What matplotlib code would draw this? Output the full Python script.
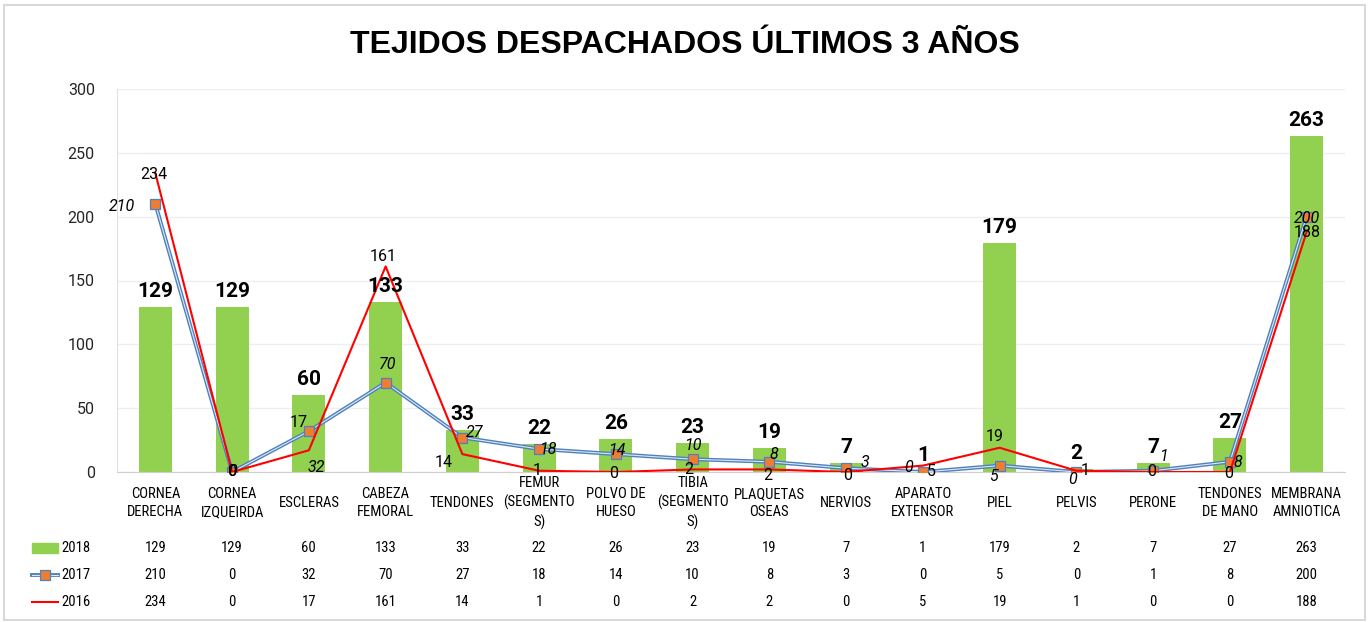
import matplotlib
matplotlib.use("Agg")
import matplotlib.pyplot as plt
from matplotlib import font_manager
from matplotlib.patches import Rectangle
from matplotlib.lines import Line2D

# Data
categories = ["CORNEA\nDERECHA", "CORNEA\nIZQUEIRDA", "ESCLERAS", "CABEZA\nFEMORAL",
              "TENDONES", "FEMUR\n(SEGMENTO\nS)", "POLVO DE\nHUESO", "TIBIA\n(SEGMENTO\nS)",
              "PLAQUETAS\nOSEAS", "NERVIOS", "APARATO\nEXTENSOR", "PIEL", "PELVIS",
              "PERONE", "TENDONES\nDE MANO", "MEMBRANA\nAMNIOTICA"]
years = ["2018", "2017", "2016"]
v2018 = [129, 129, 60, 133, 33, 22, 26, 23, 19, 7, 1, 179, 2, 7, 27, 263]
v2017 = [210, 0, 32, 70, 27, 18, 14, 10, 8, 3, 0, 5, 0, 1, 8, 200]
v2016 = [234, 0, 17, 161, 14, 1, 0, 2, 2, 0, 5, 19, 1, 0, 0, 188]
yticks = [0, 50, 100, 150, 200, 250, 300]

# label offsets in pixels (dx, dy) for the line series labels
off2017 = [(-33, -3), (0, 0), (7, -36), (2, 18), (12, 5), (9, 0), (1, 4), (0, 14),
           (5, 7), (19, 6), (-14, 4), (-6, -11), (-4, -8), (10, 14), (8, -1), (0, -2)]
off2016 = [(-2, -1), (0, 0), (-10, 28), (-2, 10), (-19, -8), (-2, 0), (-2, -1), (-4, 0),
           (-2, -6), (1, -3), (8, -6), (-5, 11), (9, 0), (-2, 0), (-1, -1), (1, -1)]

W, H = 1370, 622
GREEN = "#92d050"
BLUE = "#4f81bd"
BLUE_IN = "#dce8f6"
ORANGE = "#ed7d31"
RED = "#ff0000"

# narrow sans for the category texts / table, if one is installed
_names = {f.name for f in font_manager.fontManager.ttflist}
REG = {"family": ["Roboto", "DejaVu Sans"]}
COND = REG
for cand in ["Roboto Condensed", "Liberation Sans Narrow", "Open Sans Condensed"]:
    if cand in _names:
        COND = {"family": [cand, "DejaVu Sans"]}
        break


def fx(px):
    return px / W


def fy(py):
    return 1 - py / H


fig = plt.figure(figsize=(W / 100, H / 100), dpi=100)
fig.patches.append(Rectangle((fx(4), fy(620)), fx(1365) - fx(4), fy(5) - fy(620),
                             transform=fig.transFigure, fill=False,
                             edgecolor="#d9d9d9", linewidth=1.5))

ax = fig.add_axes([fx(117), fy(472), fx(1345) - fx(117), fy(89) - fy(472)])
x = list(range(len(categories)))

ax.bar(x, v2018, width=0.43, color=GREEN, zorder=2)
ax.plot(x, v2017, color=BLUE, lw=2.8, zorder=3, solid_joinstyle="miter")
ax.plot(x, v2017, color=BLUE_IN, lw=0.8, zorder=3)
ax.plot(x, v2017, ls="none", marker="s", ms=6.5, mfc=ORANGE, mec=BLUE, mew=0.9, zorder=4)
ax.plot(x, v2016, color=RED, lw=1.5, zorder=5)

ax.set_xlim(-0.5, len(categories) - 0.5)
ax.set_ylim(0, 300)
ax.set_yticks(yticks)
ax.set_yticklabels([str(t) for t in yticks], fontsize=11.5, color="#262626", **REG)
ax.tick_params(axis="y", length=0, pad=16)
ax.set_xticks([])
ax.grid(axis="y", color="#efefef", lw=1, zorder=0)
ax.set_axisbelow(True)
for s in ["top", "right"]:
    ax.spines[s].set_visible(False)
ax.spines["left"].set_color("#e0e0e0")
ax.spines["bottom"].set_color("#d0d0d0")

for i in x:
    ax.annotate(str(v2018[i]), (i, v2018[i]), xytext=(0, 10), textcoords="offset pixels",
                ha="center", va="baseline", fontsize=15, fontweight="bold",
                zorder=6, **REG)
    ax.annotate(str(v2017[i]), (i, v2017[i]), xytext=off2017[i], textcoords="offset pixels",
                ha="center", va="center", fontsize=11.5, style="italic",
                zorder=6, **REG)
    ax.annotate(str(v2016[i]), (i, v2016[i]), xytext=off2016[i], textcoords="offset pixels",
                ha="center", va="center", fontsize=11.5, zorder=6, **REG)
    ax.annotate(categories[i], (i, 0), xycoords=("data", "axes fraction"),
                xytext=(0, -31), textcoords="offset pixels", ha="center", va="center",
                multialignment="center", fontsize=10.5, linespacing=1.35, **COND)

# data table below the chart
rows = [v2018, v2017, v2016]
row_y = [548, 575, 602]
for vals, py in zip(rows, row_y):
    for i in x:
        ax.annotate(str(vals[i]), (i, 0), xycoords=("data", "axes fraction"),
                    xytext=(0, -(py - 472)), textcoords="offset pixels",
                    ha="center", va="center", fontsize=10.5, **COND)

for name, py in zip(years, row_y):
    fig.text(fx(61), fy(py), name, ha="left", va="center", fontsize=10.5, **COND)

fig.patches.append(Rectangle((fx(32), fy(553)), fx(58) - fx(32), fy(543) - fy(553),
                             transform=fig.transFigure, color=GREEN))
fig.lines.append(Line2D([fx(32), fx(58)], [fy(575), fy(575)], transform=fig.transFigure,
                        color=BLUE, lw=2.8))
fig.lines.append(Line2D([fx(32), fx(58)], [fy(575), fy(575)], transform=fig.transFigure,
                        color=BLUE_IN, lw=0.8))
fig.lines.append(Line2D([fx(45)], [fy(575)], transform=fig.transFigure, ls="none",
                        marker="s", ms=6.5, mfc=ORANGE, mec=BLUE, mew=0.9))
fig.lines.append(Line2D([fx(32), fx(58)], [fy(602), fy(602)], transform=fig.transFigure,
                        color=RED, lw=1.5))

fig.text(fx(685), fy(45), "TEJIDOS DESPACHADOS ÚLTIMOS 3 AÑOS", ha="center", va="center",
         fontsize=23, fontweight="bold", family=["Liberation Sans", "DejaVu Sans"])

fig.savefig("out.png", dpi=100)
